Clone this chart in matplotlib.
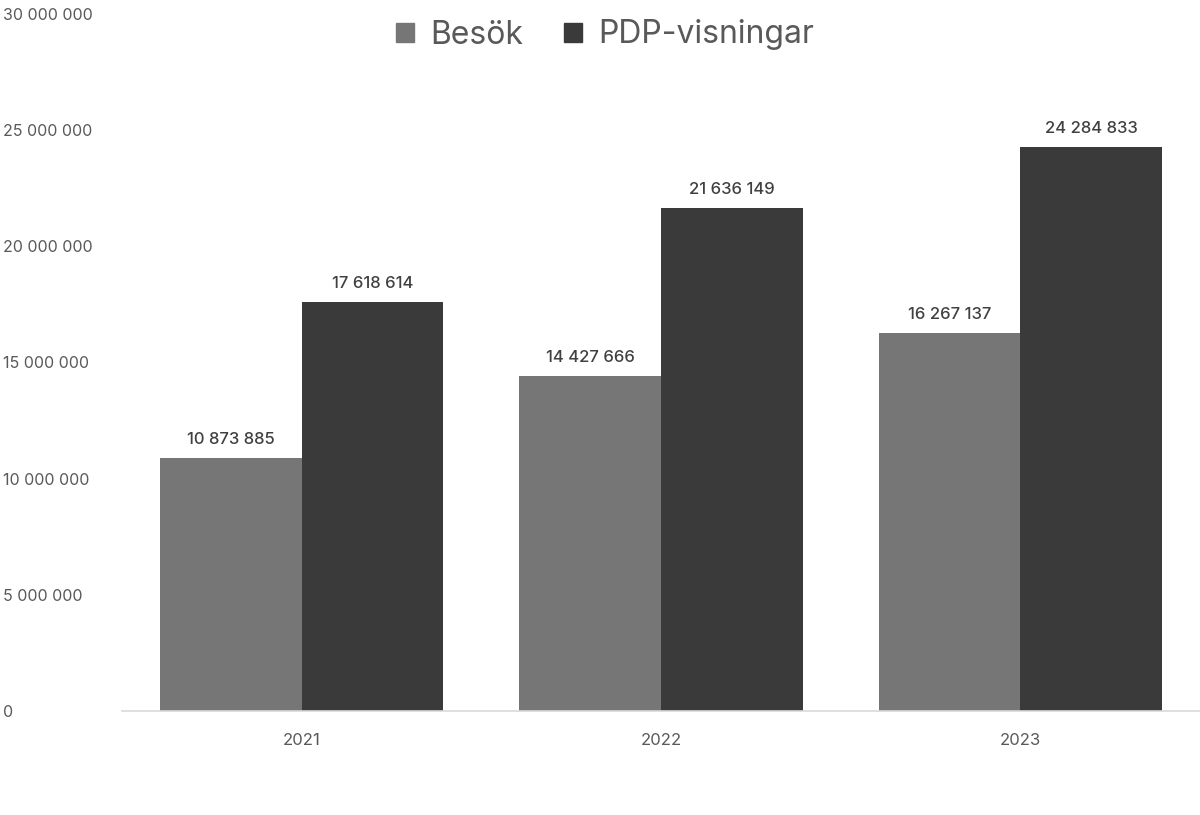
import matplotlib.pyplot as plt
import numpy as np
from matplotlib.patches import Patch

years = ['2021', '2022', '2023']
besok = [10873885, 14427666, 16267137]
pdp = [17618614, 21636149, 24284833]
series_names = ['Besök', 'PDP-visningar']
colors = ['#767676', '#3a3a3a']
text_col = '#595959'

plt.rcParams['font.family'] = ['Inter', 'DejaVu Sans']


def fmt(v):
    return f'{int(v):,}'.replace(',', ' ')


fig = plt.figure(figsize=(12, 8.15), dpi=100)
ax = fig.add_axes([122 / 1200, 1 - 711 / 815, 1 - 122 / 1200, (711 - 14) / 815])

x = np.arange(len(years))
w = 142 / 360
b1 = ax.bar(x - w / 2, besok, w, color=colors[0])
b2 = ax.bar(x + w / 2, pdp, w, color=colors[1])

# value labels above bars
for bars, vals in [(b1, besok), (b2, pdp)]:
    for r, v in zip(bars, vals):
        ax.annotate(fmt(v), (r.get_x() + r.get_width() / 2, v), xytext=(0, 8),
                    textcoords='offset points', ha='center', va='bottom',
                    fontsize=12, color='#404040', fontweight='medium')

ax.set_xlim(-0.5, 2.5)
ax.set_ylim(0, 30000000)
ax.set_yticks(np.arange(0, 30000001, 5000000))
ax.set_yticklabels([fmt(t) for t in np.arange(0, 30000001, 5000000)])
ax.set_xticks(x)
ax.set_xticklabels(years)

for s in ['top', 'right', 'left']:
    ax.spines[s].set_visible(False)
ax.spines['bottom'].set_color('#d9d9d9')
ax.spines['bottom'].set_linewidth(1.2)
ax.tick_params(axis='y', length=0, pad=119 * 0.72, labelsize=11.5, labelcolor=text_col)
for lbl in ax.get_yticklabels():
    lbl.set_horizontalalignment('left')
ax.tick_params(axis='x', length=0, pad=16, labelsize=12, labelcolor=text_col)

handles = [Patch(color=c) for c in colors]
fig.legend(handles, series_names, loc='center', bbox_to_anchor=(605 / 1200, 1 - 35 / 815),
           ncol=2, frameon=False, fontsize=23, labelcolor=text_col,
           handlelength=0.55, handleheight=0.55, handletextpad=0.5, columnspacing=1.3)

fig.savefig('out.png', dpi=100)
